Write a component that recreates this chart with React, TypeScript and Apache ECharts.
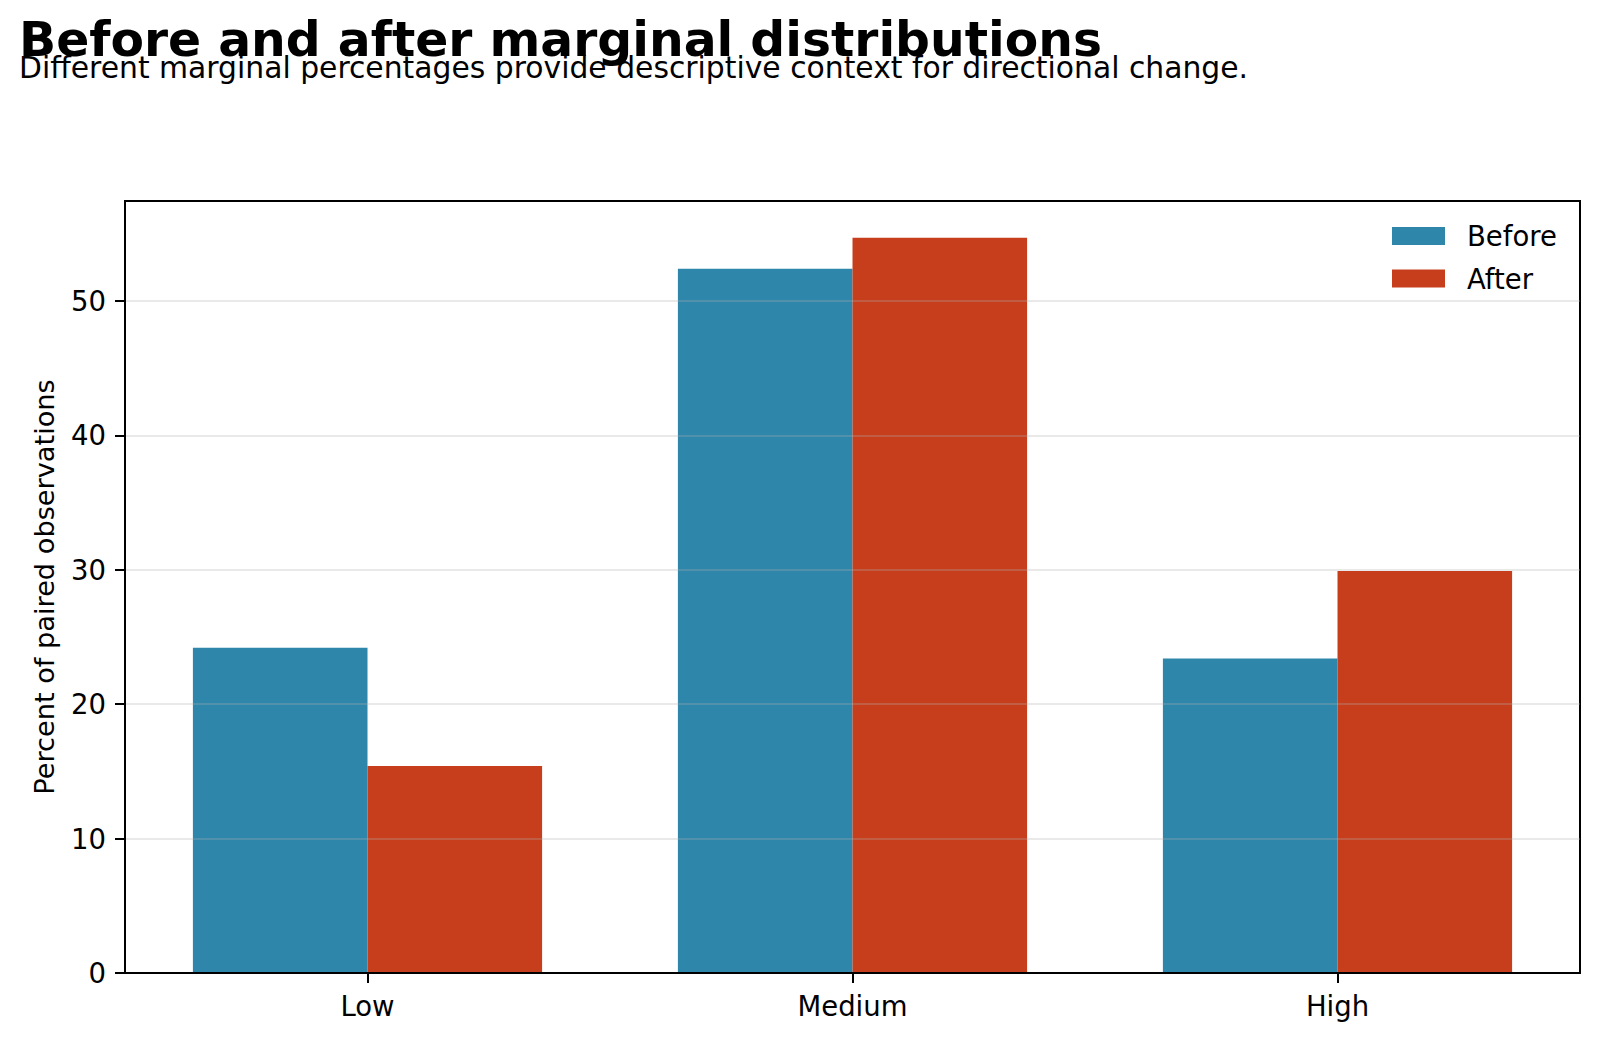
import React, { useEffect, useRef } from "react";
import * as echarts from "echarts";

const categories = ["Low", "Medium", "High"];
const beforeValues = [24.2, 52.4, 23.4];
const afterValues = [15.4, 54.7, 29.9];
const yTicks = [0, 10, 20, 30, 40, 50];
const titleText = "Before and after marginal distributions";
const subtitleText = "Different marginal percentages provide descriptive context for directional change.";
const yAxisLabel = "Percent of paired observations";

const FONT = "'DejaVu Sans', 'Liberation Sans', sans-serif";

export default function App() {
  const ref = useRef<HTMLDivElement>(null);
  useEffect(() => {
    if (!ref.current) return;
    const chart = echarts.init(ref.current, undefined, { renderer: "svg" });
    const yMax = Math.max(...beforeValues, ...afterValues) * 1.05;
    chart.setOption({
      animation: false,
      backgroundColor: "#ffffff",
      textStyle: { fontFamily: FONT },
      grid: {
        left: 125,
        top: 201,
        right: 20,
        bottom: 65,
        show: true,
        borderColor: "#000000",
        borderWidth: 2,
        containLabel: false,
      },
      legend: {
        orient: "vertical",
        left: 1387,
        top: 217,
        itemWidth: 53,
        itemHeight: 18,
        itemGap: 14.5,
        icon: "rect",
        textStyle: { fontSize: 27.5, color: "#000", fontFamily: FONT, padding: [0, 0, 0, 17] },
        data: ["Before", "After"],
      },
      xAxis: {
        type: "category",
        data: categories,
        boundaryGap: true,
        z: 5,
        axisLine: { show: true, lineStyle: { color: "#000", width: 2 } },
        axisTick: { show: true, alignWithLabel: true, length: 10, lineStyle: { color: "#000", width: 2 } },
        axisLabel: { fontSize: 27.5, color: "#000", margin: 19, fontFamily: FONT },
        splitLine: { show: false },
      },
      yAxis: {
        type: "value",
        min: 0,
        max: yMax,
        interval: 10,
        z: 5,
        axisLine: { show: true, lineStyle: { color: "#000", width: 2 } },
        axisTick: { show: true, length: 10, customValues: yTicks, lineStyle: { color: "#000", width: 2 } },
        axisLabel: { fontSize: 27.5, color: "#000", margin: 19, customValues: yTicks, fontFamily: FONT },
        splitLine: { show: true, lineStyle: { color: "rgba(176,176,176,0.28)", width: 2 } },
      },
      series: [
        {
          name: "Before",
          type: "bar",
          data: beforeValues,
          barWidth: "36%",
          barGap: "0%",
          itemStyle: { color: "#2e86ab" },
          z: 2,
        },
        {
          name: "After",
          type: "bar",
          data: afterValues,
          barWidth: "36%",
          barGap: "0%",
          itemStyle: { color: "#c73e1d" },
          z: 2,
        },
      ],
      graphic: [
        {
          type: "text",
          x: 19,
          y: 39,
          style: {
            text: titleText,
            fontSize: 48.8,
            fontWeight: "bold",
            fontFamily: FONT,
            fill: "#000",
            align: "left",
            verticalAlign: "middle",
          },
          z: 10,
        },
        {
          type: "text",
          x: 19,
          y: 67,
          style: {
            text: subtitleText,
            fontSize: 29.8,
            fontFamily: FONT,
            fill: "#000",
            align: "left",
            verticalAlign: "middle",
          },
          z: 11,
        },
        {
          type: "text",
          x: 44,
          y: 587,
          rotation: Math.PI / 2,
          style: {
            text: yAxisLabel,
            fontSize: 27.2,
            fontFamily: FONT,
            fill: "#000",
            align: "center",
            verticalAlign: "middle",
          },
          z: 10,
        },
      ],
    });
    return () => chart.dispose();
  }, []);
  return (
    <div
      ref={ref}
      style={{ position: "absolute", left: 0, top: 0, width: 1600, height: 1038, background: "#fff" }}
    />
  );
}
